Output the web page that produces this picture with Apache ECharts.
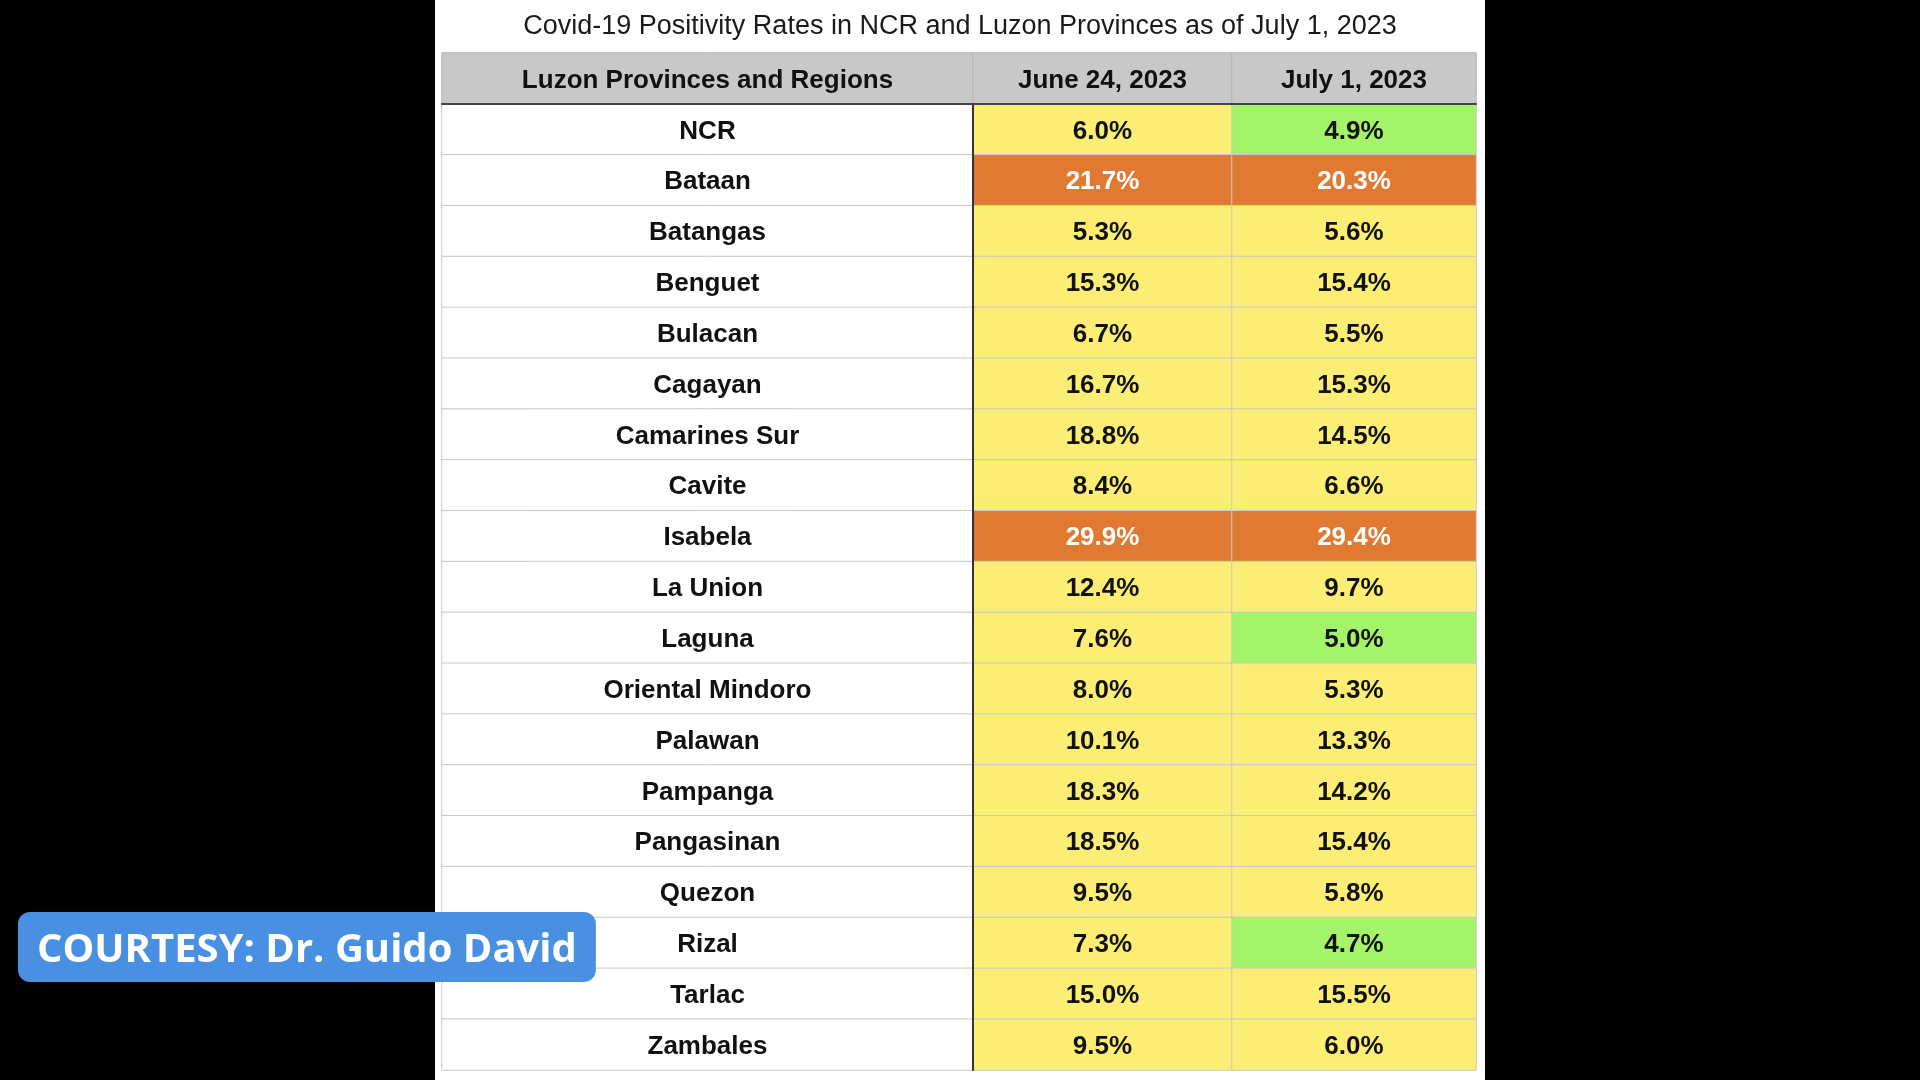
<!DOCTYPE html>
<html>
<head>
<meta charset="utf-8">
<title>Covid-19 Positivity Rates</title>
<script src="https://cdn.jsdelivr.net/npm/echarts@6/dist/echarts.min.js"></script>
<style>
  html, body { margin: 0; padding: 0; background: #000; }
  #chart { width: 1920px; height: 1080px; }
</style>
</head>
<body>
<div id="chart"></div>
<script>
const headers = ["Luzon Provinces and Regions", "June 24, 2023", "July 1, 2023"];
const regions = [
  "NCR", "Bataan", "Batangas", "Benguet", "Bulacan", "Cagayan", "Camarines Sur",
  "Cavite", "Isabela", "La Union", "Laguna", "Oriental Mindoro", "Palawan",
  "Pampanga", "Pangasinan", "Quezon", "Rizal", "Tarlac", "Zambales"
];
const june24 = [6.0, 21.7, 5.3, 15.3, 6.7, 16.7, 18.8, 8.4, 29.9, 12.4, 7.6, 8.0, 10.1, 18.3, 18.5, 9.5, 7.3, 15.0, 9.5];
const july1 = [4.9, 20.3, 5.6, 15.4, 5.5, 15.3, 14.5, 6.6, 29.4, 9.7, 5.0, 5.3, 13.3, 14.2, 15.4, 5.8, 4.7, 15.5, 6.0];

const font = "Liberation Sans, Arial, Helvetica, sans-serif";
// column edges of the table, in px
const colEdges = [442, 973, 1232, 1476];
const headTop = 53, bodyTop = 104, bodyBottom = 1070;

const chart = echarts.init(document.getElementById("chart"));

const grids = [], xAxes = [], yAxes = [], series = [];

for (let c = 0; c < 3; c++) {
  const left = colEdges[c];
  const width = colEdges[c + 1] - colEdges[c];

  // header cell
  grids.push({ left: left, width: width, top: headTop, height: bodyTop - headTop });
  xAxes.push({ type: "category", gridIndex: 2 * c, data: [headers[c]], show: false });
  yAxes.push({ type: "category", gridIndex: 2 * c, data: ["head"], show: false });
  series.push({
    type: "heatmap",
    xAxisIndex: 2 * c,
    yAxisIndex: 2 * c,
    data: [[0, 0, 0]],
    itemStyle: { color: "#c8c8c8", borderColor: "#b4b4b4", borderWidth: 1 },
    label: {
      show: true,
      offset: [0, 2],
      formatter: () => headers[c],
      fontFamily: font, fontSize: 26, fontWeight: "bold", color: "#111"
    },
    emphasis: { disabled: true }
  });

  // body cells
  grids.push({ left: left, width: width, top: bodyTop, height: bodyBottom - bodyTop });
  xAxes.push({
    type: "category", gridIndex: 2 * c + 1, data: [headers[c]], position: "top", z: 5,
    axisLine: { show: true, lineStyle: { color: "#444", width: 2 } },
    axisTick: { show: false }, axisLabel: { show: false }
  });
  yAxes.push({
    type: "category", gridIndex: 2 * c + 1, data: regions, inverse: true, z: 5,
    axisLine: { show: c === 1, lineStyle: { color: "#333", width: 2 } },
    axisTick: { show: false }, axisLabel: { show: false }
  });

  let data;
  if (c === 0) {
    data = regions.map((r, i) => [0, i, 0]);
  } else {
    const vals = c === 1 ? june24 : july1;
    data = vals.map((v, i) => ({
      value: [0, i, v],
      label: { color: v >= 20 ? "#fff" : "#111" }
    }));
  }
  series.push({
    type: "heatmap",
    name: headers[c],
    xAxisIndex: 2 * c + 1,
    yAxisIndex: 2 * c + 1,
    data: data,
    itemStyle: c === 0
      ? { color: "#fff", borderColor: "#c8c8c8", borderWidth: 1 }
      : { borderColor: "#c8c8c8", borderWidth: 1 },
    label: {
      show: true,
      offset: [0, 2],
      formatter: c === 0
        ? (p) => regions[p.dataIndex]
        : (p) => p.value[2].toFixed(1) + "%",
      fontFamily: font, fontSize: 26, fontWeight: "bold", color: "#111"
    },
    emphasis: { disabled: true }
  });
}

chart.setOption({
  backgroundColor: "#000",
  animation: false,
  graphic: [{
    type: "rect", z: -10, silent: true,
    shape: { x: 435, y: 0, width: 1050, height: 1080 },
    style: { fill: "#fff" }
  }],
  title: [
    {
      text: "Covid-19 Positivity Rates in NCR and Luzon Provinces as of July 1, 2023",
      left: "center", top: 13, padding: 0,
      textStyle: { fontFamily: font, fontSize: 27, fontWeight: "normal", color: "#1a1a1a" }
    },
    {
      text: "COURTESY: Dr. Guido David",
      left: 18, top: 912,
      padding: [19, 19, 11, 19],
      backgroundColor: "#4a90e2",
      borderRadius: 12,
      textStyle: { fontFamily: "Open Sans", fontSize: 40, lineHeight: 40, fontWeight: "bold", color: "#fff" }
    }
  ],
  visualMap: {
    type: "piecewise",
    show: false,
    seriesIndex: [3, 5],
    dimension: 2,
    pieces: [
      { lte: 5, color: "#a4f46a" },
      { gt: 5, lt: 20, color: "#fcee75" },
      { gte: 20, color: "#e07a32" }
    ]
  },
  grid: grids,
  xAxis: xAxes,
  yAxis: yAxes,
  series: series
});
</script>
</body>
</html>
